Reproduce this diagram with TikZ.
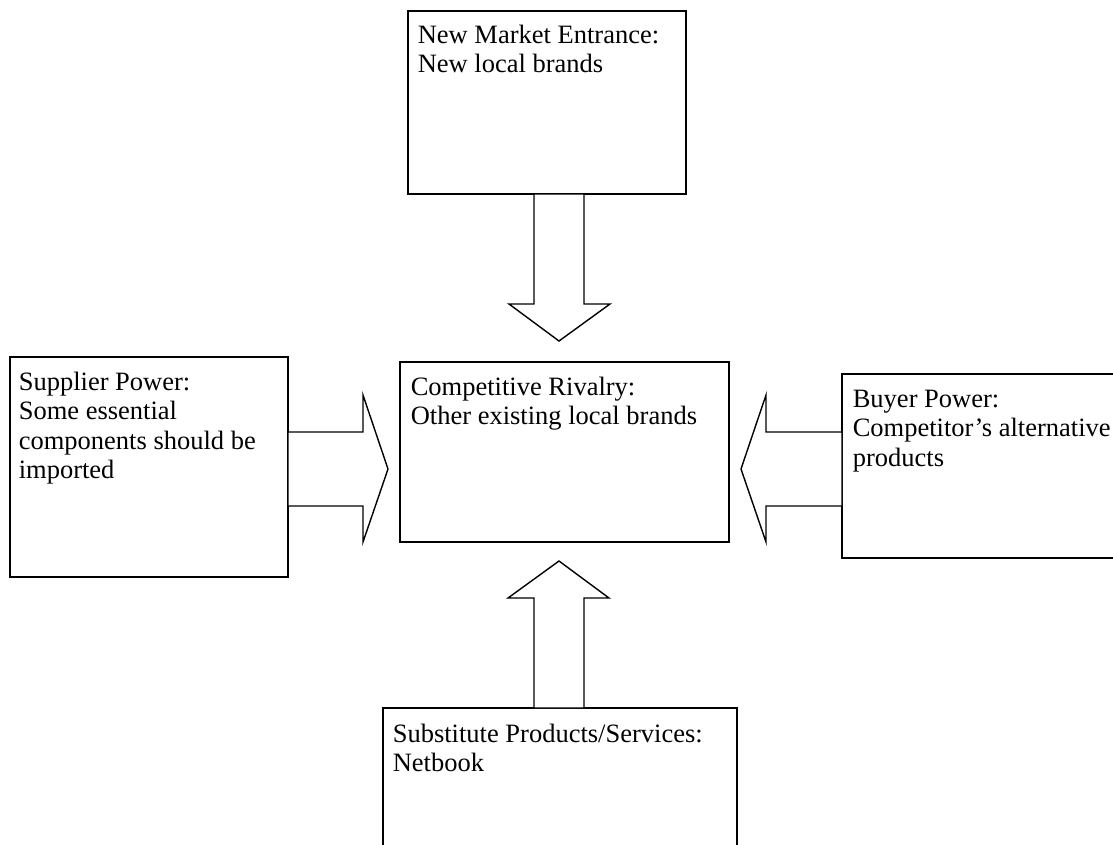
\documentclass[tikz,border=0pt]{standalone}
\usepackage{fontspec}
\setmainfont{Liberation Serif}
\usetikzlibrary{calc}

\begin{document}
\begin{tikzpicture}[x=1pt, y=-1pt, line width=1.6pt,
  force box/.style={draw, rectangle, anchor=north west, inner sep=0pt, outer sep=0pt},
  force text/.style={anchor=base west, text width=340pt, align=flush left, inner sep=0pt,
    font=\fontsize{26.5}{29.5}\selectfont},
  force arrow/.style={draw, line width=1.4pt, line join=miter, fill=white}]

\useasboundingbox (0,0) rectangle (1113,844);

\foreach \n/\x/\y/\w/\h in {entrant/408/11/278/183, supplier/10/357/278/220,
    rivalry/400/362/329/180, buyer/842/374/300/184, substitute/383/708/354/160}
  \node [force box, minimum width=\w, minimum height=\h] (\n) at (\x,\y) {};

\node [force text] (entrant-text) at ($(entrant.north west)+(9,32)$)
  {New Market Entrance:\\New local brands};
\node [force text] (supplier-text) at ($(supplier.north west)+(8,33)$)
  {Supplier Power:\\Some essential\\components should be\\imported};
\node [force text] (rivalry-text) at ($(rivalry.north west)+(10,33)$)
  {Competitive Rivalry:\\Other existing local brands};
\node [force text] (buyer-text) at ($(buyer.north west)+(10,33)$)
  {Buyer Power:\\Competitor’s alternative\\products};
\node [force text] (substitute-text) at ($(substitute.north west)+(9,34)$)
  {Substitute Products/Services:\\Netbook};

% arrow tips
\coordinate (tip-n) at (559,341);
\coordinate (tip-s) at (559,561);
\coordinate (tip-w) at (388,469);
\coordinate (tip-e) at (741,469);

\draw [force arrow] ($(entrant.south -| tip-n)+(-25,0)$) -- ++(0,110) -- ++(-25,0)
  -- (tip-n) -- ++(51,-37) -- ++(-26,0) -- ++(0,-110) -- cycle;
\draw [force arrow] ($(substitute.north -| tip-s)+(-25,0)$) -- ++(0,-110) -- ++(-26,0)
  -- (tip-s) -- ++(50,37) -- ++(-25,0) -- ++(0,110) -- cycle;
\draw [force arrow] ($(supplier.east |- tip-w)+(0,-37)$) -- ++(75,0) -- ++(0,-37)
  -- (tip-w) -- ++(-25,73) -- ++(0,-36) -- ++(-75,0) -- cycle;
\draw [force arrow] ($(buyer.west |- tip-e)+(0,-37)$) -- ++(-76,0) -- ++(0,-37)
  -- (tip-e) -- ++(25,73) -- ++(0,-36) -- ++(76,0) -- cycle;

\end{tikzpicture}
\end{document}
